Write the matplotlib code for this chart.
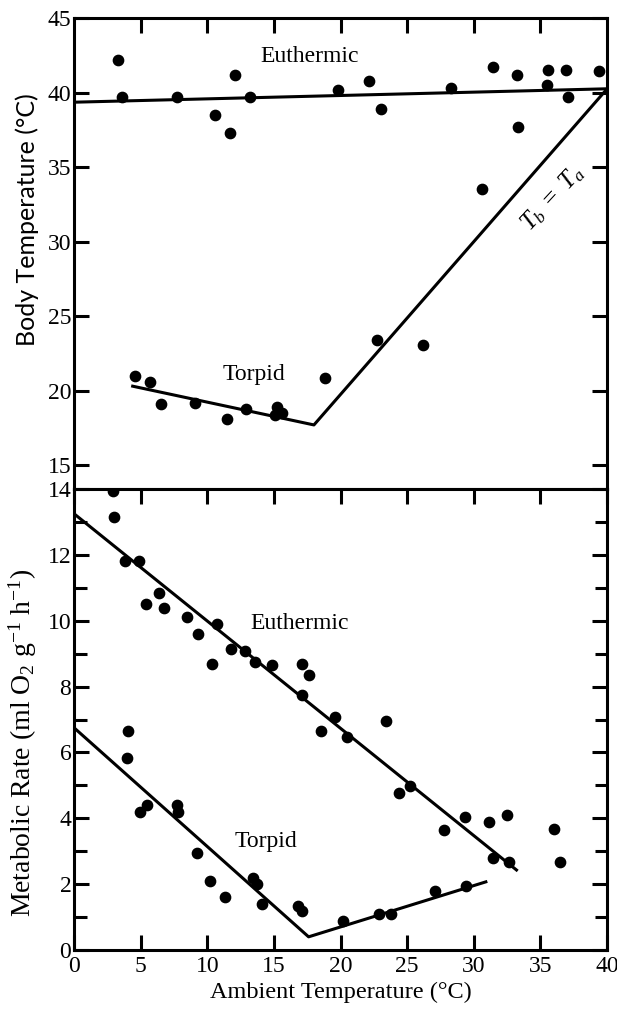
import matplotlib
matplotlib.use("Agg")
import matplotlib.pyplot as plt
from matplotlib.ticker import MultipleLocator

plt.rcParams['font.family'] = ['Liberation Serif', 'DejaVu Serif']
plt.rcParams['mathtext.fontset'] = 'custom'
plt.rcParams['mathtext.rm'] = 'Liberation Serif'
plt.rcParams['mathtext.it'] = 'Liberation Serif:italic'

# -- body temperature (top panel)
tb_eu_x = [3.3, 3.6, 7.75, 10.6, 12.1, 11.7, 13.2, 19.8, 22.1, 23.05, 28.3, 31.4,
           33.2, 33.3, 35.6, 35.5, 36.9, 37.1, 39.4, 30.6]
tb_eu_y = [42.2, 39.7, 39.7, 38.5, 41.15, 37.3, 39.7, 40.2, 40.75, 38.9, 40.3, 41.7,
           41.15, 37.7, 41.5, 40.5, 41.5, 39.7, 41.45, 33.5]
tb_tor_x = [4.55, 5.7, 6.5, 9.1, 11.5, 12.9, 15.2, 15.6, 15.1, 18.8, 22.7, 26.2]
tb_tor_y = [21.0, 20.6, 19.1, 19.2, 18.1, 18.75, 18.9, 18.5, 18.35, 20.85, 23.4, 23.05]

tb_eu_line_x = [0, 40]
tb_eu_line_y = [39.35, 40.25]
tb_tor_line_x = [4.4, 18.0, 40]
tb_tor_line_y = [20.3, 17.7, 40.25]

# -- metabolic rate (bottom panel)
mr_eu_x = [2.9, 2.98, 3.85, 4.9, 5.4, 6.4, 6.75, 8.5, 9.3, 10.7, 10.35, 11.75, 12.8,
           13.6, 14.85, 17.1, 17.65, 17.1, 19.6, 18.5, 20.5, 23.4, 24.4, 25.2, 27.75,
           29.3, 31.15, 32.5, 31.4, 32.6, 36.0, 36.5]
mr_eu_y = [13.95, 13.14, 11.8, 11.8, 10.5, 10.85, 10.4, 10.1, 9.6, 9.9, 8.7, 9.15, 9.08,
           8.74, 8.65, 8.68, 8.35, 7.74, 7.07, 6.66, 6.47, 6.97, 4.77, 4.99, 3.63,
           4.03, 3.9, 4.1, 2.79, 2.66, 3.67, 2.67]
mr_tor_x = [4.05, 4.0, 4.95, 5.5, 7.7, 7.8, 9.2, 10.2, 11.35, 13.4, 13.7, 14.1, 16.8,
            17.1, 20.15, 22.85, 23.8, 27.1, 29.4]
mr_tor_y = [6.66, 5.82, 4.18, 4.4, 4.39, 4.19, 2.95, 2.1, 1.61, 2.2, 2.01, 1.41, 1.34,
            1.17, 0.88, 1.1, 1.1, 1.78, 1.93]

mr_eu_line_x = [0, 33.2]
mr_eu_line_y = [13.25, 2.43]
mr_tor_line_x = [0, 17.6, 30.9]
mr_tor_line_y = [6.75, 0.4, 2.07]

fs = 17
lw = 2.2
ms = 55

fig = plt.figure(figsize=(6.17, 10.1), dpi=100)
ax1 = fig.add_axes([0.120, 0.5158, 0.864, 0.4664])
ax2 = fig.add_axes([0.120, 0.0594, 0.864, 0.4564])

# top panel
ax1.scatter(tb_eu_x, tb_eu_y, s=ms, color='black', zorder=3)
ax1.scatter(tb_tor_x, tb_tor_y, s=ms, color='black', zorder=3)
ax1.plot(tb_eu_line_x, tb_eu_line_y, color='black', lw=lw)
ax1.plot(tb_tor_line_x, tb_tor_line_y, color='black', lw=lw)
ax1.set_xlim(0, 40)
ax1.set_ylim(13.4, 45)
ax1.set_yticks([15, 20, 25, 30, 35, 40, 45])
ax1.set_xticks([5, 10, 15, 20, 25, 30, 35])
ax1.tick_params(axis='x', bottom=False, top=True, labelbottom=False,
                direction='in', length=11, width=lw)
ax1.tick_params(axis='y', left=True, right=True, direction='in', length=11,
                width=lw, labelsize=fs, pad=2)
ax1.set_ylabel('Body Temperature (°C)', fontsize=18, family=['Lato', 'DejaVu Sans'])
ax1.yaxis.set_label_coords(-0.066, 0.571)
ax1.text(17.7, 42.4, 'Euthermic', fontsize=fs, ha='center', va='center')
ax1.text(13.5, 21.1, 'Torpid', fontsize=fs, ha='center', va='center')
ax1.text(35.9, 32.9, r'$T_b\ =\ T_a$', fontsize=fs + 1, ha='center', va='center',
         rotation=47)

# bottom panel
ax2.scatter(mr_eu_x, mr_eu_y, s=ms, color='black', zorder=3)
ax2.scatter(mr_tor_x, mr_tor_y, s=ms, color='black', zorder=3)
ax2.plot(mr_eu_line_x, mr_eu_line_y, color='black', lw=lw)
ax2.plot(mr_tor_line_x, mr_tor_line_y, color='black', lw=lw)
ax2.set_xlim(0, 40)
ax2.set_ylim(0, 14)
ax2.set_xticks([0, 5, 10, 15, 20, 25, 30, 35, 40])
ax2.set_yticks([0, 2, 4, 6, 8, 10, 12, 14])
ax2.yaxis.set_minor_locator(MultipleLocator(1))
ax2.tick_params(axis='x', bottom=True, top=True, direction='in', length=11,
                width=lw, labelsize=fs, pad=4)
ax2.tick_params(axis='y', which='both', left=True, right=True, direction='in',
                width=lw, labelsize=fs, pad=2)
ax2.tick_params(axis='y', which='major', length=11)
ax2.tick_params(axis='y', which='minor', length=9)
ax2.set_ylabel(r'Metabolic Rate (ml O$_2$ g$^{-1}$ h$^{-1}$)', fontsize=20)
ax2.yaxis.set_label_coords(-0.066, 0.449)
ax2.set_xlabel('Ambient Temperature (°C)', fontsize=17.5, labelpad=4)
ax2.text(16.95, 9.92, 'Euthermic', fontsize=fs, ha='center', va='center')
ax2.text(14.4, 3.29, 'Torpid', fontsize=fs, ha='center', va='center')

for ax in (ax1, ax2):
    for sp in ax.spines.values():
        sp.set_linewidth(lw)

fig.savefig('out.png', dpi=100)
